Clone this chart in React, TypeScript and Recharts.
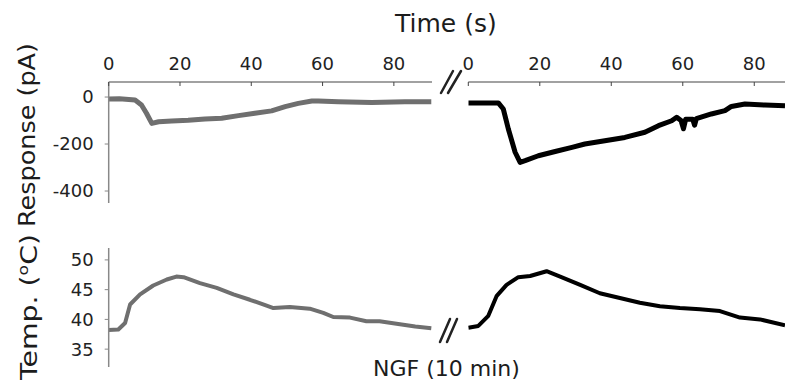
import React from 'react';
import { LineChart, Line, XAxis, YAxis } from 'recharts';

const FONT = '"DejaVu Sans", "Liberation Sans", sans-serif';

const timeTicks = [0, 20, 40, 60, 80];
const respTicks = [-400, -200, 0];
const tempTicks = [35, 40, 45, 50];

// control trace (gray), response in pA
const ctrlRespTime = [0, 3, 7.4, 9.2, 10.6, 12.1, 14, 17.7, 22.3, 27, 31.7, 36.4, 41, 45.7, 49.5, 53.2, 57, 58.8, 64.4, 73.8, 83.1, 90.5];
const ctrlResp = [-8, -7, -13, -34, -69, -112, -105, -102, -99, -93, -90, -79, -69, -59, -41, -27, -17, -17, -20, -23, -20, -20];

// after NGF (10 min), black
const ngfRespTime = [0, 4, 8.4, 9.8, 11.2, 13.1, 14.5, 15.9, 19.6, 24.3, 29, 32.6, 38.2, 43.8, 49.4, 53.2, 56.9, 58.3, 59.5, 60.2, 60.8, 62.8, 63.3, 63.8, 68, 71.8, 73.6, 77.4, 83, 88.6];
const ngfResp = [-25, -25, -25, -51, -136, -235, -278, -271, -250, -232, -214, -200, -186, -172, -150, -122, -101, -86, -100, -135, -95, -95, -120, -92, -72, -58, -40, -30, -34, -37];

// temperature, degC
const ctrlTempTime = [0, 2.7, 4.6, 6, 8.8, 12.5, 16.3, 19, 21, 25.6, 30.3, 35, 39.6, 44.3, 46.2, 50.8, 56.4, 60.2, 63, 67.7, 72.3, 76, 81.7, 86, 90.5];
const ctrlTemp = [38.2, 38.3, 39.4, 42.5, 44.2, 45.7, 46.7, 47.2, 47.1, 46.1, 45.3, 44.2, 43.3, 42.3, 41.9, 42.1, 41.8, 41.1, 40.4, 40.3, 39.7, 39.7, 39.2, 38.8, 38.5];

const ngfTempTime = [0, 2.8, 5.6, 7.9, 10.7, 14, 17.3, 21.9, 25.7, 31.3, 36.8, 42.4, 48, 53.6, 59.2, 64.8, 70.4, 76, 81.6, 88.6];
const ngfTemp = [38.6, 38.9, 40.6, 43.9, 45.8, 47.1, 47.3, 48.1, 47.2, 45.8, 44.4, 43.6, 42.8, 42.2, 41.9, 41.7, 41.4, 40.3, 40, 39.0];

const toRows = (t: number[], v: number[]) => t.map((x, i) => ({ t: x, v: v[i] }));

const TICK_GAP = 12;

// labels above the axis, tick marks pointing down into the plot
const TopTick = (props: any) => {
  const { x, y, payload } = props;
  const axisY = y + TICK_GAP;
  return (
    <g>
      <line x1={x} x2={x} y1={axisY} y2={axisY + 4} stroke="#444" strokeWidth={1} />
      <text x={x} y={y} textAnchor="middle" fontSize={18} fill="#222" fontFamily={FONT}>
        {payload.value}
      </text>
    </g>
  );
};

const yTickStyle = { fontSize: 18, fill: '#222', fontFamily: FONT };

const abs = (left: number, top: number): React.CSSProperties => ({ position: 'absolute', left, top });

const App: React.FC = () => {
  return (
    <div style={{ position: 'absolute', left: 0, top: 0, width: 785, height: 381, background: '#fff' }}>
      <div style={abs(0, 0)}>
        <LineChart width={440} height={210} data={toRows(ctrlRespTime, ctrlResp)} margin={{ top: 52, left: 48.7, right: 8, bottom: 7 }}>
          <XAxis
            dataKey="t" type="number" orientation="top" height={30}
            domain={[0, 90.7]} ticks={timeTicks} allowDataOverflow
            tickLine={false} tickSize={0} tickMargin={TICK_GAP} tick={<TopTick />}
            axisLine={{ stroke: '#444', strokeWidth: 1.2 }}
          />
          <YAxis
            type="number" width={60} domain={[-451, 64]} ticks={respTicks} allowDataOverflow
            tickSize={4} tickMargin={11} tick={yTickStyle}
            tickLine={{ stroke: '#888' }} axisLine={{ stroke: '#888', strokeWidth: 1.5 }}
          />
          <Line dataKey="v" type="linear" stroke="#6f6f6f" strokeWidth={5} dot={false} isAnimationActive={false} strokeLinejoin="round" />
        </LineChart>
      </div>

      <div style={abs(440, 0)}>
        <LineChart width={345} height={210} data={toRows(ngfRespTime, ngfResp)} margin={{ top: 52, left: 28.3, right: 0, bottom: 7 }}>
          <XAxis
            dataKey="t" type="number" orientation="top" height={30}
            domain={[0, 88.6]} ticks={timeTicks} allowDataOverflow
            tickLine={false} tickSize={0} tickMargin={TICK_GAP} tick={<TopTick />}
            axisLine={{ stroke: '#444', strokeWidth: 1.2 }}
          />
          <YAxis hide type="number" domain={[-451, 64]} allowDataOverflow />
          <Line dataKey="v" type="linear" stroke="#000" strokeWidth={5} dot={false} isAnimationActive={false} strokeLinejoin="round" />
        </LineChart>
      </div>

      <div style={abs(0, 230)}>
        <LineChart width={440} height={145} data={toRows(ctrlTempTime, ctrlTemp)} margin={{ top: 18, left: 48.7, right: 8, bottom: 8 }}>
          <XAxis hide dataKey="t" type="number" domain={[0, 90.7]} allowDataOverflow />
          <YAxis
            type="number" width={60} domain={[32, 52]} ticks={tempTicks} allowDataOverflow
            tickSize={4} tickMargin={11} tick={yTickStyle}
            tickLine={{ stroke: '#888' }} axisLine={{ stroke: '#888', strokeWidth: 1.5 }}
          />
          <Line dataKey="v" type="linear" stroke="#6f6f6f" strokeWidth={4} dot={false} isAnimationActive={false} strokeLinejoin="round" />
        </LineChart>
      </div>

      <div style={abs(440, 230)}>
        <LineChart width={345} height={145} data={toRows(ngfTempTime, ngfTemp)} margin={{ top: 18, left: 28.3, right: 0, bottom: 8 }}>
          <XAxis hide dataKey="t" type="number" domain={[0, 88.6]} allowDataOverflow />
          <YAxis hide type="number" domain={[32, 52]} allowDataOverflow />
          <Line dataKey="v" type="linear" stroke="#000" strokeWidth={4} dot={false} isAnimationActive={false} strokeLinejoin="round" />
        </LineChart>
      </div>

      <svg width={785} height={381} style={{ position: 'absolute', left: 0, top: 0, pointerEvents: 'none' }} fontFamily={FONT} fill="#1c1c1c">
        <text x={395} y={32} fontSize={25}>Time (s)</text>
        <text x={373} y={376} fontSize={22}>NGF (10 min)</text>
        <text transform="translate(35,135) rotate(-90)" textAnchor="middle" fontSize={23} textLength={184} lengthAdjust="spacingAndGlyphs">
          Response (pA)
        </text>
        <text transform="translate(37,307) rotate(-90)" textAnchor="middle" fontSize={23} textLength={146} lengthAdjust="spacingAndGlyphs">
          Temp. (<tspan fontSize={14} dy={-9}>o</tspan><tspan dy={9}>C)</tspan>
        </text>
        <g stroke="#222" strokeWidth={2.5} strokeLinecap="round">
          <line x1={441} y1={93} x2={453} y2={71} />
          <line x1={448} y1={93} x2={461} y2={71} />
          <line x1={440} y1={342} x2={450} y2={319} />
          <line x1={447} y1={342} x2={457} y2={319} />
        </g>
      </svg>
    </div>
  );
};

export default App;
